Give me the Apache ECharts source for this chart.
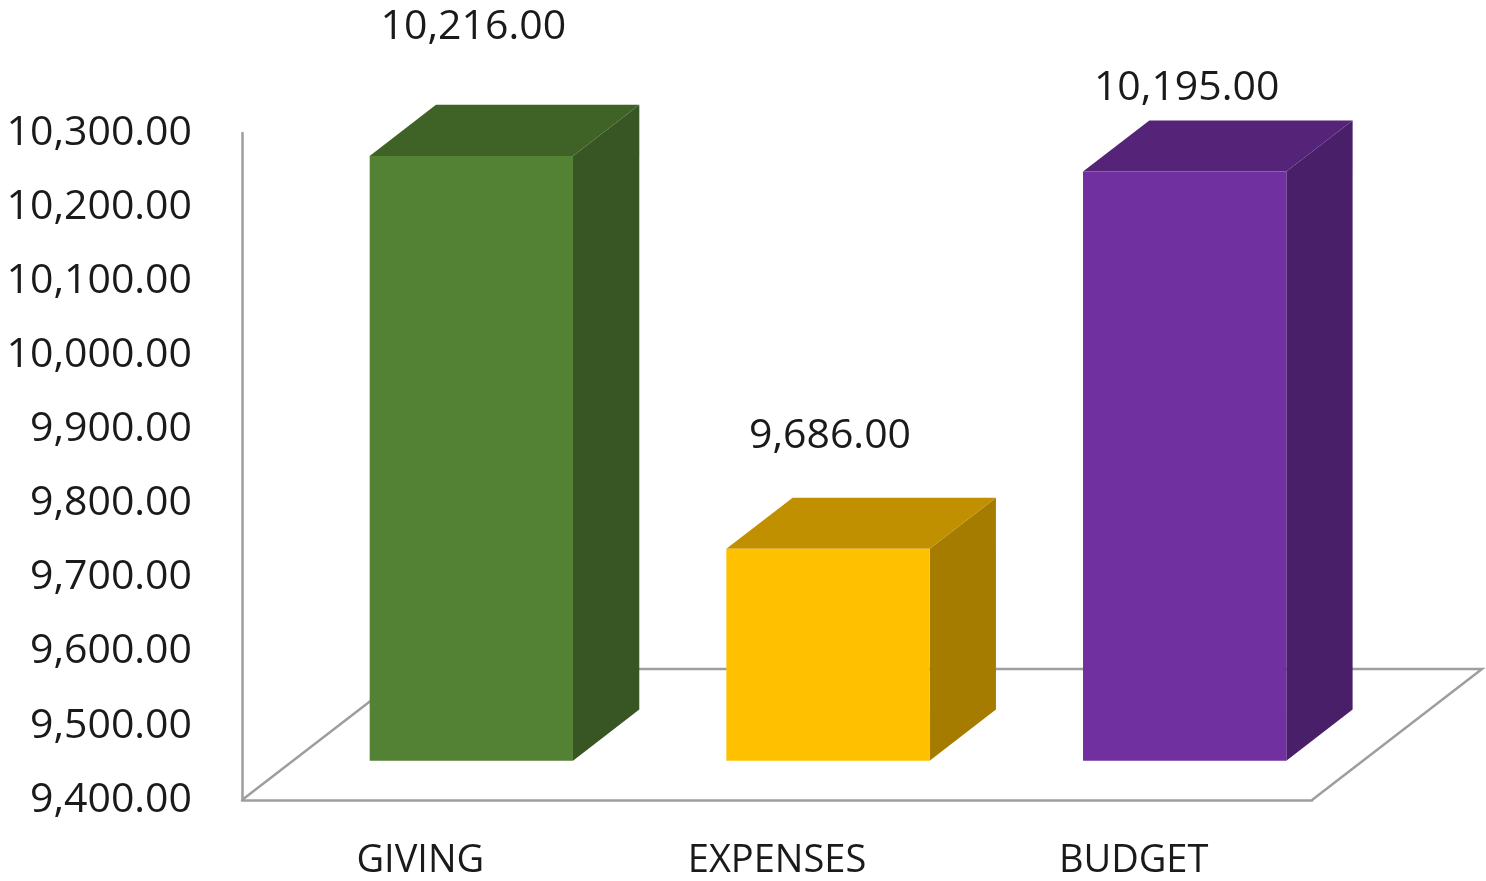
<!DOCTYPE html>
<html>
<head>
<meta charset="utf-8">
<title>Giving vs Expenses vs Budget</title>
<script src="https://cdn.jsdelivr.net/npm/echarts@6/dist/echarts.min.js"></script>
<style>
  html, body { margin: 0; padding: 0; background: #fff; }
  #chart { width: 1486px; height: 881px; }
</style>
</head>
<body>
<div id="chart"></div>
<script>
// data
const categories = ['GIVING', 'EXPENSES', 'BUDGET']
const amounts = [10216, 9686, 10195]
const yMin = 9400
const yMax = 10300
const yStep = 100

// looks of the 3d boxes (front, side, top)
const FRONT = ['#548235', '#ffc000', '#7030a0']
const SIDE = ['#375623', '#a67c00', '#4a1f6a']
const TOP = ['#3f6226', '#c09000', '#552479']
const LABEL_LIFT = [80, 63, 34] // how far each value label sits above its box
const FLOOR_DX = 170 // depth of the floor in pixels
const FLOOR_DY = -131
const FONT = '"Open Sans", "Liberation Sans", sans-serif'
const LINE = '#9e9e9e'

const fmt = (v) => v.toLocaleString('en-US', { minimumFractionDigits: 2, maximumFractionDigits: 2 })

const chart = echarts.init(document.getElementById('chart'))

function renderFloor(params, api) {
  const r = params.coordSys
  const by = r.y + r.height
  return {
    type: 'polyline',
    shape: {
      points: [
        [r.x + r.width, by],
        [r.x + r.width + FLOOR_DX, by + FLOOR_DY],
        [r.x + FLOOR_DX, by + FLOOR_DY],
        [r.x, by]
      ]
    },
    style: { stroke: LINE, lineWidth: 2.5, fill: null }
  }
}

function renderBox(params, api) {
  const i = api.value(0)
  const v = api.value(1)
  const top = api.coord([i, v])
  const base = api.coord([i, yMin])
  const band = api.size([1, 0])[0]
  const w = band * 0.57
  // front face sits 30% into the floor, box is 39% deep
  const sx = FLOOR_DX * 0.3, sy = FLOOR_DY * 0.3
  const dx = FLOOR_DX * 0.39, dy = FLOOR_DY * 0.39
  const x0 = top[0] + sx - w / 2
  const x1 = x0 + w
  const yT = top[1] + sy
  const yB = base[1] + sy
  const k = params.dataIndex
  return {
    type: 'group',
    children: [
      {
        type: 'polygon',
        shape: { points: [[x1, yT], [x1 + dx, yT + dy], [x1 + dx, yB + dy], [x1, yB]] },
        style: { fill: SIDE[k] }
      },
      {
        type: 'polygon',
        shape: { points: [[x0, yT], [x0 + dx, yT + dy], [x1 + dx, yT + dy], [x1, yT]] },
        style: { fill: TOP[k] }
      },
      {
        type: 'rect',
        shape: { x: x0, y: yT, width: w, height: yB - yT },
        style: { fill: FRONT[k] }
      },
      {
        type: 'text',
        x: (x0 + x1) / 2 + 2,
        y: yT + dy - LABEL_LIFT[k] + 2,
        style: {
          text: fmt(v),
          fill: '#1a1a1a',
          font: '41px ' + FONT,
          align: 'center',
          verticalAlign: 'middle'
        }
      }
    ]
  }
}

chart.setOption({
  animation: false,
  grid: { left: 242, right: 174, top: 133, bottom: 81 },
  xAxis: {
    type: 'category',
    data: categories,
    axisLine: { show: true, lineStyle: { color: LINE, width: 2.5 } },
    axisTick: { show: false },
    axisLabel: {
      color: '#1a1a1a',
      fontFamily: FONT,
      fontSize: 38,
      margin: 42
    }
  },
  yAxis: {
    type: 'value',
    min: yMin,
    max: yMax,
    interval: yStep,
    splitLine: { show: false },
    axisLine: { show: true, lineStyle: { color: LINE, width: 2.5 } },
    axisTick: { show: false },
    axisLabel: {
      color: '#1a1a1a',
      fontFamily: FONT,
      fontSize: 41,
      margin: 50,
      padding: [6, 0, 0, 0],
      formatter: fmt
    }
  },
  series: [
    {
      type: 'custom',
      renderItem: renderFloor,
      data: [[0, yMin]],
      z: 1,
      silent: true
    },
    {
      type: 'custom',
      renderItem: renderBox,
      data: amounts.map((v, i) => [i, v]),
      z: 2
    }
  ]
})
</script>
</body>
</html>
